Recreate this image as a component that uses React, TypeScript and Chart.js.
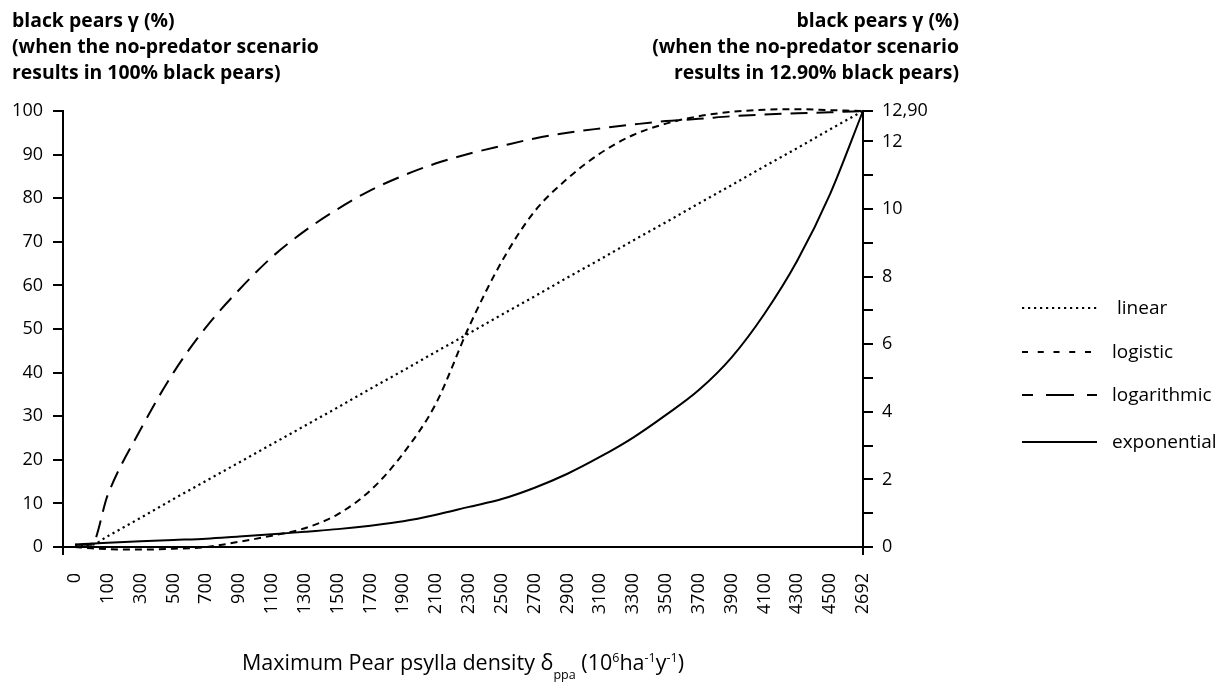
import React, { useEffect, useRef } from 'react';
import { Chart, registerables } from 'chart.js';

Chart.register(...registerables);

// ---- data (x given as category index; 0.5 = between "0" and "100") ----
const xTickLabels = ['0', '100', '300', '500', '700', '900', '1100', '1300', '1500', '1700', '1900', '2100', '2300', '2500', '2700', '2900', '3100', '3300', '3500', '3700', '3900', '4100', '4300', '4500', '2692'];
const xPositions = [0, 0.5, 1, 2, 3, 4, 5, 6, 7, 8, 9, 10, 11, 12, 13, 14, 15, 16, 17, 18, 19, 20, 21, 22, 23, 24];
const linearValues = [0.5, 0.5, 2.5, 6.7, 11, 15.2, 19.4, 23.6, 27.8, 32, 36.3, 40.5, 44.8, 49, 53.3, 57.5, 61.8, 66, 70.3, 74.5, 78.8, 83, 87.3, 91.5, 95.8, 100];
const logisticValues = [0, -0.3, -0.5, -0.6, -0.4, 0, 1.2, 2.6, 4.3, 7.5, 13, 21.5, 33, 50.5, 65.5, 77, 84.5, 90.3, 94.5, 97.1, 98.8, 99.8, 100.3, 100.4, 100.2, 100];
const logarithmicValues = [0.5, 0.5, 12, 27, 40, 50.5, 59, 66.5, 72.5, 77.5, 81.8, 85.2, 88, 90.2, 92, 93.7, 95, 96, 96.9, 97.7, 98.2, 98.8, 99.2, 99.5, 99.7, 100];
const exponentialValues = [0.5, 0.8, 1.0, 1.3, 1.6, 1.9, 2.4, 2.9, 3.5, 4.1, 4.9, 5.9, 7.4, 9.2, 11, 13.6, 16.8, 20.7, 25.1, 30.3, 36, 43.5, 53.5, 65.7, 81, 100];

const leftTickValues = [0, 10, 20, 30, 40, 50, 60, 70, 80, 90, 100];
const rightTickValues = [0, 1, 2, 3, 4, 5, 6, 7, 8, 9, 10, 11, 12, 12.9];
const rightTickLabels = ['0', '', '2', '', '4', '', '6', '', '8', '', '10', '', '12', '12,90'];

const seriesNames = ['linear', 'logistic', 'logarithmic', 'exponential'];

const W = 1229;
const H = 697;
const FONT = "'Open Sans', sans-serif";
const X_MIN = -0.365;

const toPoints = (vals: number[]) => vals.map((v, i) => ({ x: xPositions[i], y: v }));

export default function App() {
  const canvasRef = useRef<HTMLCanvasElement | null>(null);

  useEffect(() => {
    if (!canvasRef.current) return;
    Chart.defaults.font.family = FONT;
    Chart.defaults.color = '#000';
    const common = {
      pointRadius: 0,
      borderColor: '#000',
      backgroundColor: '#000',
      fill: false,
      cubicInterpolationMode: 'monotone' as const,
      clip: false as const,
    };
    const chart = new Chart(canvasRef.current, {
      type: 'line',
      data: {
        datasets: [
          { ...common, label: seriesNames[0], data: toPoints(linearValues), borderWidth: 2.2, borderDash: [2.2, 3.6] },
          { ...common, label: seriesNames[1], data: toPoints(logisticValues), borderWidth: 2, borderDash: [7, 5] },
          { ...common, label: seriesNames[2], data: toPoints(logarithmicValues), borderWidth: 2, borderDash: [17, 9] },
          { ...common, label: seriesNames[3], data: toPoints(exponentialValues), borderWidth: 2 },
        ],
      },
      options: {
        responsive: false,
        animation: false,
        layout: { padding: { top: 111, left: 0, right: 0, bottom: 0 } },
        plugins: { legend: { display: false }, tooltip: { enabled: false } },
        scales: {
          x: {
            type: 'linear',
            min: X_MIN,
            max: 24,
            afterBuildTicks: (s: any) => {
              s.ticks = [X_MIN, ...xTickLabels.map((_, i) => i)].map((v) => ({ value: v }));
            },
            afterFit: (s: any) => { s.height = H - 547; },
            ticks: {
              autoSkip: false,
              minRotation: 90,
              maxRotation: 90,
              padding: 18,
              font: { size: 18, family: FONT },
              color: '#000',
              callback: (_v: any, i: number) => (i === 0 ? '' : xTickLabels[i - 1]),
            },
            grid: {
              drawOnChartArea: false,
              drawTicks: true,
              tickLength: 8,
              lineWidth: 2,
              tickColor: (ctx: any) => (ctx.index === 0 || ctx.index === xTickLabels.length ? '#000' : 'rgba(0,0,0,0)'),
            },
            border: { display: true, color: '#000', width: 2 },
          },
          y: {
            type: 'linear',
            position: 'left',
            min: 0,
            max: 100,
            afterBuildTicks: (s: any) => { s.ticks = leftTickValues.map((v) => ({ value: v })); },
            afterFit: (s: any) => { s.width = 63; },
            ticks: { padding: 10, font: { size: 18, family: FONT }, color: '#000' },
            grid: { drawOnChartArea: false, drawTicks: true, tickLength: 10, lineWidth: 2, color: '#000' },
            border: { display: true, color: '#000', width: 2 },
          },
          y1: {
            type: 'linear',
            position: 'right',
            min: 0,
            max: 12.9,
            afterBuildTicks: (s: any) => { s.ticks = rightTickValues.map((v) => ({ value: v })); },
            afterFit: (s: any) => { s.width = W - 863; },
            ticks: {
              padding: 9,
              font: { size: 18, family: FONT },
              color: '#000',
              callback: (_v: any, i: number) => rightTickLabels[i],
            },
            grid: { drawOnChartArea: false, drawTicks: true, tickLength: 10, lineWidth: 2, color: '#000' },
            border: { display: true, color: '#000', width: 2 },
          },
        },
      },
    });
    return () => chart.destroy();
  }, []);

  const legendRows = [
    { name: seriesNames[0], y: 308, dash: '2.2,3.8', off: 0, tx: 1117 },
    { name: seriesNames[1], y: 352, dash: '6,9.75', off: 0, tx: 1112 },
    { name: seriesNames[2], y: 395, dash: '28,13', off: 17, tx: 1112 },
    { name: seriesNames[3], y: 442, dash: undefined as string | undefined, off: 0, tx: 1112 },
  ];

  const titleStyle: React.CSSProperties = {
    position: 'absolute', top: 7, fontFamily: FONT, fontWeight: 700, fontSize: 19.4,
    lineHeight: '26px', color: '#000', whiteSpace: 'nowrap',
  };

  return (
    <div style={{ position: 'absolute', left: 0, top: 0, width: W, height: H, background: '#fff', overflow: 'hidden' }}>
      <canvas ref={canvasRef} width={W} height={H} style={{ position: 'absolute', left: 0, top: 0, width: W, height: H }} />
      <div style={{ ...titleStyle, left: 12 }}>
        black pears γ (%)<br />(when the no-predator scenario<br />results in 100% black pears)
      </div>
      <div style={{ ...titleStyle, right: W - 959, textAlign: 'right' }}>
        black pears γ (%)<br />(when the no-predator scenario<br />results in 12.90% black pears)
      </div>
      <div style={{ position: 'absolute', left: 0, width: 926, top: 647, textAlign: 'center', fontFamily: FONT, fontSize: 21.5, color: '#000', whiteSpace: 'nowrap' }}>
        Maximum Pear psylla density δ<sub style={{ fontSize: 12.5, verticalAlign: '-0.75em' }}>ppa</sub> (10<sup style={{ fontSize: 12.5 }}>6</sup>ha<sup style={{ fontSize: 12.5 }}>-1</sup>y<sup style={{ fontSize: 12.5 }}>-1</sup>)
      </div>
      <svg width={W} height={H} style={{ position: 'absolute', left: 0, top: 0, pointerEvents: 'none' }}>
        {legendRows.map((r) => (
          <g key={r.name}>
            <line x1={1022} x2={1097} y1={r.y} y2={r.y} stroke="#000" strokeWidth={2} strokeDasharray={r.dash} strokeDashoffset={r.off} />
            <text x={r.tx} y={r.y + 6} fontFamily={FONT} fontSize={19} fill="#000">{r.name}</text>
          </g>
        ))}
      </svg>
    </div>
  );
}
